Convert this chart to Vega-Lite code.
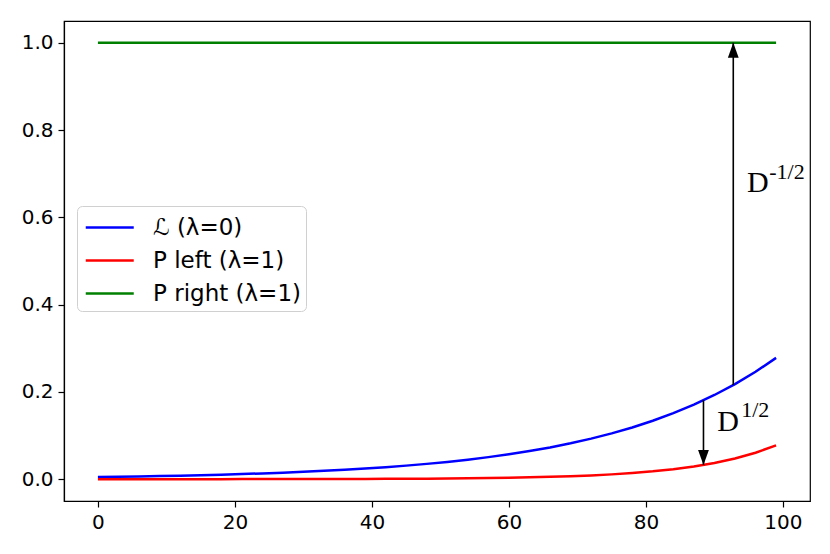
{
  "$schema": "https://vega.github.io/schema/vega-lite/v6.json",
  "width": 746,
  "height": 480,
  "autosize": {"type": "none"},
  "padding": {"left": 64, "top": 21, "right": 20, "bottom": 53},
  "background": "white",
  "config": {
    "view": {"stroke": "black", "strokeWidth": 1.2},
    "axis": {
      "grid": false,
      "domainColor": "black",
      "domainWidth": 1.2,
      "tickColor": "black",
      "tickWidth": 1.2,
      "tickSize": 6,
      "labelFont": "DejaVu Sans",
      "labelFontSize": 20,
      "labelColor": "black",
      "labelPadding": 5,
      "title": null
    }
  },
  "datasets": {
    "curves": [
      {"x": 0, "y": 0.00500, "series": "ℒ (λ=0)"},
      {"x": 3, "y": 0.00565, "series": "ℒ (λ=0)"},
      {"x": 6, "y": 0.00638, "series": "ℒ (λ=0)"},
      {"x": 9, "y": 0.00720, "series": "ℒ (λ=0)"},
      {"x": 12, "y": 0.00814, "series": "ℒ (λ=0)"},
      {"x": 15, "y": 0.00919, "series": "ℒ (λ=0)"},
      {"x": 18, "y": 0.01038, "series": "ℒ (λ=0)"},
      {"x": 21, "y": 0.01172, "series": "ℒ (λ=0)"},
      {"x": 24, "y": 0.01324, "series": "ℒ (λ=0)"},
      {"x": 27, "y": 0.01496, "series": "ℒ (λ=0)"},
      {"x": 30, "y": 0.01689, "series": "ℒ (λ=0)"},
      {"x": 33, "y": 0.01908, "series": "ℒ (λ=0)"},
      {"x": 36, "y": 0.02155, "series": "ℒ (λ=0)"},
      {"x": 39, "y": 0.02434, "series": "ℒ (λ=0)"},
      {"x": 42, "y": 0.02750, "series": "ℒ (λ=0)"},
      {"x": 45, "y": 0.03106, "series": "ℒ (λ=0)"},
      {"x": 48, "y": 0.03508, "series": "ℒ (λ=0)"},
      {"x": 51, "y": 0.03962, "series": "ℒ (λ=0)"},
      {"x": 54, "y": 0.04475, "series": "ℒ (λ=0)"},
      {"x": 57, "y": 0.05055, "series": "ℒ (λ=0)"},
      {"x": 60, "y": 0.05709, "series": "ℒ (λ=0)"},
      {"x": 63, "y": 0.06449, "series": "ℒ (λ=0)"},
      {"x": 66, "y": 0.07284, "series": "ℒ (λ=0)"},
      {"x": 69, "y": 0.08227, "series": "ℒ (λ=0)"},
      {"x": 72, "y": 0.09293, "series": "ℒ (λ=0)"},
      {"x": 75, "y": 0.10496, "series": "ℒ (λ=0)"},
      {"x": 78, "y": 0.11855, "series": "ℒ (λ=0)"},
      {"x": 81, "y": 0.13391, "series": "ℒ (λ=0)"},
      {"x": 84, "y": 0.15125, "series": "ℒ (λ=0)"},
      {"x": 87, "y": 0.17084, "series": "ℒ (λ=0)"},
      {"x": 90, "y": 0.19296, "series": "ℒ (λ=0)"},
      {"x": 93, "y": 0.21795, "series": "ℒ (λ=0)"},
      {"x": 96, "y": 0.24618, "series": "ℒ (λ=0)"},
      {"x": 99, "y": 0.27806, "series": "ℒ (λ=0)"},
      {"x": 0, "y": 0.000025, "series": "P left (λ=1)"},
      {"x": 3, "y": 0.000032, "series": "P left (λ=1)"},
      {"x": 6, "y": 0.000041, "series": "P left (λ=1)"},
      {"x": 9, "y": 0.000052, "series": "P left (λ=1)"},
      {"x": 12, "y": 0.000066, "series": "P left (λ=1)"},
      {"x": 15, "y": 0.000084, "series": "P left (λ=1)"},
      {"x": 18, "y": 0.000108, "series": "P left (λ=1)"},
      {"x": 21, "y": 0.000137, "series": "P left (λ=1)"},
      {"x": 24, "y": 0.000175, "series": "P left (λ=1)"},
      {"x": 27, "y": 0.000224, "series": "P left (λ=1)"},
      {"x": 30, "y": 0.000285, "series": "P left (λ=1)"},
      {"x": 33, "y": 0.000364, "series": "P left (λ=1)"},
      {"x": 36, "y": 0.000464, "series": "P left (λ=1)"},
      {"x": 39, "y": 0.000592, "series": "P left (λ=1)"},
      {"x": 42, "y": 0.000756, "series": "P left (λ=1)"},
      {"x": 45, "y": 0.000965, "series": "P left (λ=1)"},
      {"x": 48, "y": 0.001231, "series": "P left (λ=1)"},
      {"x": 51, "y": 0.001570, "series": "P left (λ=1)"},
      {"x": 54, "y": 0.002003, "series": "P left (λ=1)"},
      {"x": 57, "y": 0.002555, "series": "P left (λ=1)"},
      {"x": 60, "y": 0.003259, "series": "P left (λ=1)"},
      {"x": 63, "y": 0.004159, "series": "P left (λ=1)"},
      {"x": 66, "y": 0.005306, "series": "P left (λ=1)"},
      {"x": 69, "y": 0.006768, "series": "P left (λ=1)"},
      {"x": 72, "y": 0.008636, "series": "P left (λ=1)"},
      {"x": 75, "y": 0.011017, "series": "P left (λ=1)"},
      {"x": 78, "y": 0.014054, "series": "P left (λ=1)"},
      {"x": 81, "y": 0.017932, "series": "P left (λ=1)"},
      {"x": 84, "y": 0.022877, "series": "P left (λ=1)"},
      {"x": 87, "y": 0.029186, "series": "P left (λ=1)"},
      {"x": 90, "y": 0.037234, "series": "P left (λ=1)"},
      {"x": 93, "y": 0.047502, "series": "P left (λ=1)"},
      {"x": 96, "y": 0.060605, "series": "P left (λ=1)"},
      {"x": 99, "y": 0.077317, "series": "P left (λ=1)"},
      {"x": 0, "y": 1.0, "series": "P right (λ=1)"},
      {"x": 99, "y": 1.0, "series": "P right (λ=1)"}
    ],
    "arrows": [
      {"x": 92.75, "y": 0.2158, "tip": 1.0, "dir": "up"},
      {"x": 88.4, "y": 0.1809, "tip": 0.0327, "dir": "down"}
    ],
    "bigText": [
      {"x": 94.75, "y": 0.658, "t": "D"},
      {"x": 90.4, "y": 0.11, "t": "D"}
    ],
    "supText": [
      {"x": 98.0, "y": 0.688, "t": "-1/2"},
      {"x": 93.9, "y": 0.142, "t": "1/2"}
    ]
  },
  "layer": [
    {
      "data": {"name": "curves"},
      "mark": {"type": "line", "strokeWidth": 2.5, "clip": true},
      "encoding": {
        "x": {"field": "x", "type": "quantitative", "scale": {"domain": [-4.95, 103.95], "nice": false, "zero": false}, "axis": {"values": [0, 20, 40, 60, 80, 100], "format": "d"}},
        "y": {"field": "y", "type": "quantitative", "scale": {"domain": [-0.05, 1.05], "nice": false, "zero": false}, "axis": {"values": [0, 0.2, 0.4, 0.6, 0.8, 1.0], "format": ".1f"}},
        "color": {
          "field": "series",
          "type": "nominal",
          "scale": {"domain": ["ℒ (λ=0)", "P left (λ=1)", "P right (λ=1)"], "range": ["#0000ff", "#ff0000", "#008000"]},
          "legend": {
            "title": null,
            "orient": "none",
            "legendX": 13,
            "legendY": 185,
            "symbolType": "M-0.85,0H2.35",
            "symbolSize": 900,
            "symbolStrokeWidth": 2.5,
            "labelFont": "DejaVu Sans",
            "labelFontSize": 23,
            "labelColor": "black",
            "labelOffset": 38,
            "rowPadding": 4,
            "padding": 5,
            "strokeColor": "#d0d0d0",
            "fillColor": "white",
            "cornerRadius": 5
          }
        },
        "order": {"field": "x", "type": "quantitative"}
      }
    },
    {
      "data": {"name": "arrows"},
      "mark": {"type": "rule", "color": "black", "strokeWidth": 1.6},
      "encoding": {
        "x": {"field": "x", "type": "quantitative"},
        "y": {"field": "y", "type": "quantitative"},
        "y2": {"field": "tip"}
      }
    },
    {
      "data": {"name": "arrows"},
      "mark": {"type": "point", "filled": true, "color": "black", "opacity": 1, "size": 900},
      "encoding": {
        "x": {"field": "x", "type": "quantitative"},
        "y": {"field": "tip", "type": "quantitative"},
        "shape": {"field": "dir", "type": "nominal", "scale": {"domain": ["up", "down"], "range": ["M0,0L-0.36,1L0.36,1Z", "M0,0L-0.36,-1L0.36,-1Z"]}, "legend": null}
      }
    },
    {
      "data": {"name": "bigText"},
      "mark": {"type": "text", "font": "Liberation Serif", "fontSize": 30, "align": "left", "baseline": "alphabetic", "color": "black"},
      "encoding": {
        "x": {"field": "x", "type": "quantitative"},
        "y": {"field": "y", "type": "quantitative"},
        "text": {"field": "t"}
      }
    },
    {
      "data": {"name": "supText"},
      "mark": {"type": "text", "font": "Liberation Serif", "fontSize": 22, "align": "left", "baseline": "alphabetic", "color": "black"},
      "encoding": {
        "x": {"field": "x", "type": "quantitative"},
        "y": {"field": "y", "type": "quantitative"},
        "text": {"field": "t"}
      }
    }
  ]
}
